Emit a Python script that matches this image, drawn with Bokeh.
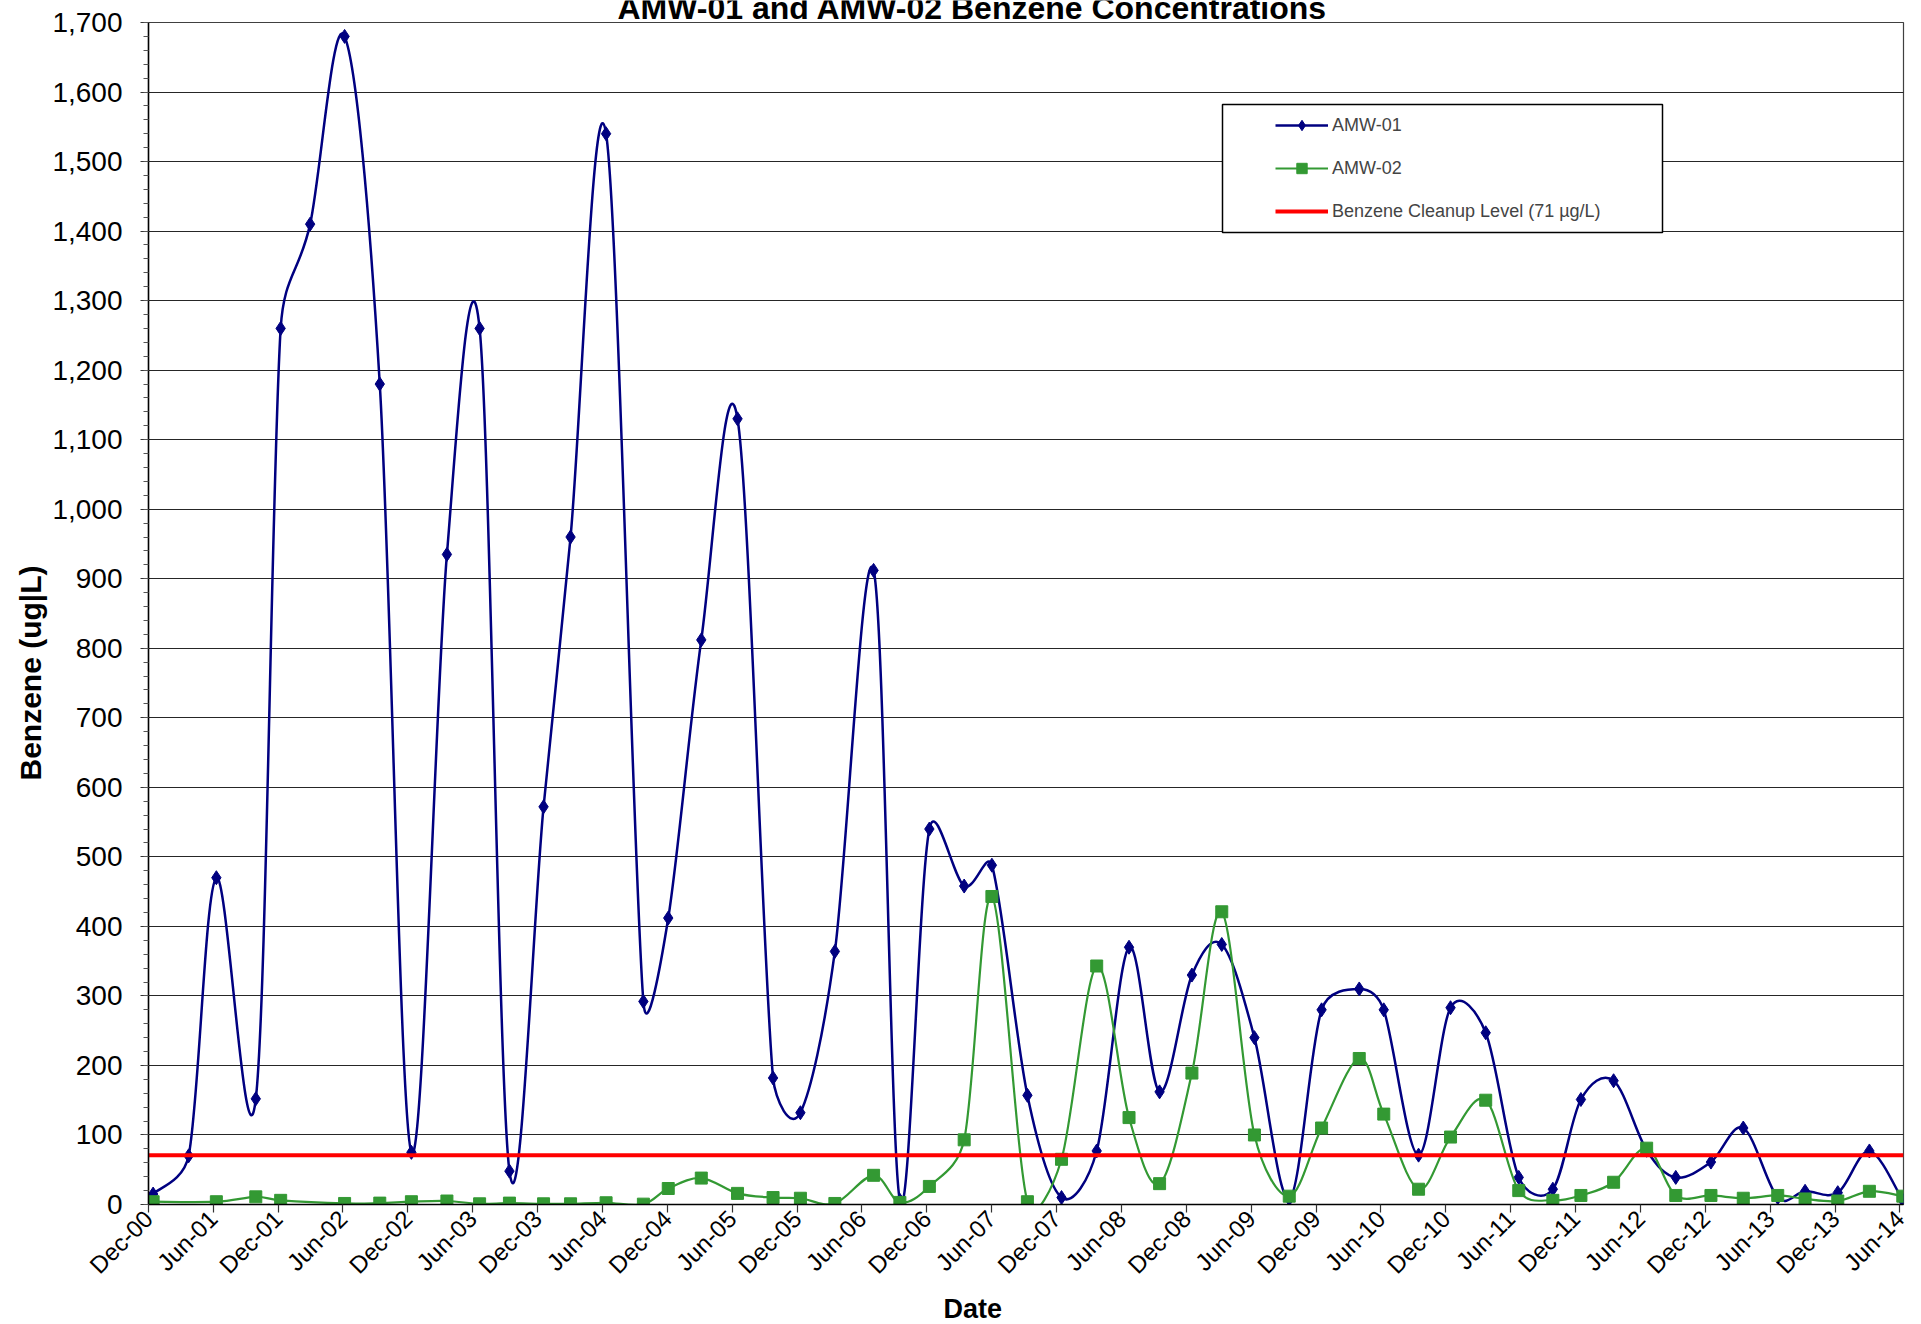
import math
from datetime import datetime

from bokeh.plotting import figure
from bokeh.layouts import column
from bokeh.models import (ColumnDataSource, FixedTicker, DatetimeTickFormatter,
                          NumeralTickFormatter, SingleIntervalTicker, Legend,
                          LegendItem, Label, BoxAnnotation, Range1d, Title)
from bokeh.embed import file_html
from bokeh.resources import INLINE

# ---------------- data ----------------
amw01_dates = [
    "2000-12-14", "2001-03-24", "2001-06-10", "2001-09-29", "2001-12-08",
    "2002-03-01", "2002-06-06", "2002-09-13", "2002-12-11", "2003-03-21",
    "2003-06-21", "2003-09-13", "2003-12-18", "2004-03-03", "2004-06-11",
    "2004-09-24", "2004-12-03", "2005-03-06", "2005-06-16", "2005-09-24",
    "2005-12-10", "2006-03-17", "2006-07-04", "2006-09-16", "2006-12-08",
    "2007-03-16", "2007-06-02", "2007-09-10", "2007-12-15", "2008-03-23",
    "2008-06-22", "2008-09-16", "2008-12-16", "2009-03-10", "2009-06-10",
    "2009-09-16", "2009-12-16", "2010-04-01", "2010-06-09", "2010-09-15",
    "2010-12-14", "2011-03-23", "2011-06-24", "2011-09-28", "2011-12-16",
    "2012-03-17", "2012-06-18", "2012-09-08", "2012-12-16", "2013-03-17",
    "2013-06-22", "2013-09-07", "2013-12-08", "2014-03-07", "2014-06-09",
]
amw01_values = [
    15, 70, 470, 152, 1260,
    1410, 1680, 1180, 75, 935,
    1260, 48, 572, 960, 1540,
    292, 412, 812, 1130, 182,
    132, 364, 912, 6, 540,
    458, 488, 157, 10, 77,
    370, 162, 330, 374, 240,
    8, 280, 310, 280, 71,
    283, 247, 39, 22, 151,
    178, 78, 39, 61, 110,
    10, 19, 17, 77, 6,
]

amw02_dates = [
    "2000-12-14", "2001-06-10", "2001-09-29", "2001-12-08", "2002-06-06",
    "2002-09-13", "2002-12-11", "2003-03-21", "2003-06-21", "2003-09-13",
    "2003-12-18", "2004-03-03", "2004-06-11", "2004-09-24", "2004-12-03",
    "2005-03-06", "2005-06-16", "2005-09-24", "2005-12-10", "2006-03-17",
    "2006-07-04", "2006-09-16", "2006-12-08", "2007-03-16", "2007-06-02",
    "2007-09-10", "2007-12-15", "2008-03-23", "2008-06-22", "2008-09-16",
    "2008-12-16", "2009-03-10", "2009-06-10", "2009-09-16", "2009-12-16",
    "2010-04-01", "2010-06-09", "2010-09-15", "2010-12-14", "2011-03-23",
    "2011-06-24", "2011-09-28", "2011-12-16", "2012-03-17", "2012-06-18",
    "2012-09-08", "2012-12-16", "2013-03-17", "2013-06-22", "2013-09-07",
    "2013-12-08", "2014-03-07", "2014-06-09",
]
amw02_values = [
    4, 4, 11, 6, 1.5,
    2, 4, 5, 1, 2,
    1, 1, 2.5, 0.5, 23,
    38, 16, 10, 9, 1.5,
    42, 3, 26, 93, 443,
    4, 65, 343, 125, 30,
    189, 421, 100, 12, 110,
    210, 130, 22, 97, 150,
    20, 6, 13, 32, 81,
    13, 13, 9, 13, 8,
    5, 19, 12,
]

cleanup_level = 71
cleanup_label = "Benzene Cleanup Level (71 \u00b5g/L)"

tick_dates = [
    "2000-12-01", "2001-06-01", "2001-12-01", "2002-06-01", "2002-12-01",
    "2003-06-01", "2003-12-01", "2004-06-01", "2004-12-01", "2005-06-01",
    "2005-12-01", "2006-06-01", "2006-12-01", "2007-06-01", "2007-12-01",
    "2008-06-01", "2008-12-01", "2009-06-01", "2009-12-01", "2010-06-01",
    "2010-12-01", "2011-06-01", "2011-12-01", "2012-06-01", "2012-12-01",
    "2013-06-01", "2013-12-01", "2014-06-01",
]
x_start_date = "2000-12-01"
x_end_date = "2014-06-11"
y_min, y_max = 0, 1700

title_text = "AMW-01 and AMW-02 Benzene Concentrations"
x_title = "Date"
y_title = "Benzene (ug|L)"

NAVY = "#000080"
GREEN = "#339933"
RED = "#FF0000"
FONT = "Liberation Sans"

PAGE_W = 1915
TOP_H = 22
FRAME_W, FRAME_H = 1755, 1182


def to_ms(s):
    d = datetime.strptime(s, "%Y-%m-%d")
    return (d - datetime(1970, 1, 1)).total_seconds() * 1000.0


x1 = [to_ms(s) for s in amw01_dates]
x2 = [to_ms(s) for s in amw02_dates]
xs_ms, xe_ms = to_ms(x_start_date), to_ms(x_end_date)

PX_X = FRAME_W / (xe_ms - xs_ms)     # pixels per ms
PX_Y = FRAME_H / (y_max - y_min)      # pixels per unit


def smooth_source(xs, ys):
    """Excel-like smoothed line: cubic Bezier segments with Catmull-Rom tangents,
    each control leg limited to half of its segment length (in screen space)."""
    P = [(x * PX_X, y * PX_Y) for x, y in zip(xs, ys)]
    n = len(P)
    d = dict(x0=[], y0=[], x1=[], y1=[], cx0=[], cy0=[], cx1=[], cy1=[])

    def leg(a, b, seg):
        vx, vy = (b[0] - a[0]) / 6.0, (b[1] - a[1]) / 6.0
        ln = math.hypot(vx, vy)
        lim = seg / 2.0
        if ln > lim and ln > 0:
            vx, vy = vx * lim / ln, vy * lim / ln
        return vx, vy

    for i in range(n - 1):
        p0 = P[i - 1] if i > 0 else P[i]
        p1 = P[i]
        p2 = P[i + 1]
        p3 = P[i + 2] if i + 2 < n else P[i + 1]
        seg = math.hypot(p2[0] - p1[0], p2[1] - p1[1])
        v1 = leg(p0, p2, seg)
        v2 = leg(p1, p3, seg)
        d["x0"].append(xs[i]); d["y0"].append(ys[i])
        d["x1"].append(xs[i + 1]); d["y1"].append(ys[i + 1])
        d["cx0"].append((p1[0] + v1[0]) / PX_X); d["cy0"].append((p1[1] + v1[1]) / PX_Y)
        d["cx1"].append((p2[0] - v2[0]) / PX_X); d["cy1"].append((p2[1] - v2[1]) / PX_Y)
    return ColumnDataSource(d)


# ---------------- title strip (text cut at the top like the reference) ----------------
t = figure(width=PAGE_W, height=TOP_H, x_range=Range1d(0, PAGE_W), y_range=Range1d(0, TOP_H),
           x_axis_location=None, y_axis_location=None,
           output_backend="svg", toolbar_location=None,
           min_border_left=0, min_border_right=0, min_border_top=0, min_border_bottom=0)
t.xgrid.visible = False
t.ygrid.visible = False
t.outline_line_color = None
t.background_fill_color = "white"
t.border_fill_color = "white"
# bottom of the text box (baseline + descent) placed so the baseline sits ~3.5px above the frame
t.add_layout(Label(x=899, y=-3.2, x_units="data", y_units="data",
                   text=title_text, text_font=FONT, text_font_size="32px",
                   text_font_style="bold", text_align="center",
                   text_baseline="bottom", text_color="black"))

# ---------------- main figure (pulled up over the title strip) ----------------
p = figure(frame_width=FRAME_W, frame_height=FRAME_H, x_axis_type="datetime",
           output_backend="svg", toolbar_location=None,
           x_range=Range1d(xs_ms, xe_ms), y_range=Range1d(y_min, y_max),
           min_border_left=148, min_border_right=12,
           min_border_top=TOP_H, min_border_bottom=100)
p.margin = (-TOP_H, 0, 0, 0)
p.background_fill_color = "white"
p.border_fill_color = "white"
p.border_fill_alpha = 0.0
p.outline_line_color = "#404040"
p.outline_line_width = 1.2

# x axis
p.xaxis.ticker = FixedTicker(ticks=[to_ms(s) for s in tick_dates])
p.xaxis.formatter = DatetimeTickFormatter(days="%b-%y", months="%b-%y", years="%b-%y",
                                          hours="%b-%y", hourmin="%b-%y")
p.xaxis.major_label_orientation = math.pi / 4
p.xaxis.major_label_text_font = FONT
p.xaxis.major_label_text_font_size = "24px"
p.xaxis.major_label_text_color = "black"
p.xaxis.major_label_standoff = 2
p.xaxis.major_tick_out = 8
p.xaxis.major_tick_in = 0
p.xaxis.minor_tick_out = 0
p.xaxis.minor_tick_in = 0
p.xaxis.axis_line_color = "black"
p.xaxis.axis_line_width = 1.5
p.xaxis.major_tick_line_color = "#333333"
p.xaxis.major_tick_line_width = 1.2

# y axis
p.yaxis.ticker = SingleIntervalTicker(interval=100, num_minor_ticks=5)
p.yaxis.formatter = NumeralTickFormatter(format="0,0")
p.yaxis.major_label_text_font = FONT
p.yaxis.major_label_text_font_size = "28px"
p.yaxis.major_label_text_color = "black"
p.yaxis.major_label_standoff = 18
p.yaxis.major_tick_out = 8
p.yaxis.major_tick_in = 0
p.yaxis.minor_tick_out = 5
p.yaxis.minor_tick_in = 0
p.yaxis.axis_line_color = "black"
p.yaxis.axis_line_width = 1.5
p.yaxis.major_tick_line_color = "#333333"
p.yaxis.minor_tick_line_color = "#555555"

p.xgrid.visible = False
p.ygrid.grid_line_color = "black"
p.ygrid.grid_line_alpha = 0.85
p.ygrid.grid_line_width = 1.1

# ---------------- series ----------------
b1 = p.bezier(x0="x0", y0="y0", x1="x1", y1="y1", cx0="cx0", cy0="cy0",
              cx1="cx1", cy1="cy1", source=smooth_source(x1, amw01_values),
              line_color=NAVY, line_width=2.5)
s1 = p.scatter(x=x1, y=amw01_values, marker="diamond", size=14,
               fill_color=NAVY, line_color=NAVY)

b2 = p.bezier(x0="x0", y0="y0", x1="x1", y1="y1", cx0="cx0", cy0="cy0",
              cx1="cx1", cy1="cy1", source=smooth_source(x2, amw02_values),
              line_color=GREEN, line_width=2.2)
s2 = p.scatter(x=x2, y=amw02_values, marker="square", size=12,
               fill_color=GREEN, line_color=GREEN)

rl = p.line(x=[xs_ms, xe_ms], y=[cleanup_level, cleanup_level],
            line_color=RED, line_width=4)

# ---------------- legend ----------------
box = BoxAnnotation(left=1074, right=1514, bottom=972, top=1100,
                    left_units="screen", right_units="screen",
                    top_units="screen", bottom_units="screen",
                    fill_color="white", fill_alpha=1.0,
                    line_color="black", line_width=1.5, line_alpha=1.0)
p.add_layout(box)

legend = Legend(items=[
    LegendItem(label="AMW-01", renderers=[b1, s1]),
    LegendItem(label="AMW-02", renderers=[b2, s2]),
    LegendItem(label=cleanup_label, renderers=[rl]),
], location=(1127, 980), padding=0, spacing=17, margin=0,
    glyph_width=53, glyph_height=26, label_height=26, label_standoff=4,
    label_text_font=FONT, label_text_font_size="18px",
    border_line_color=None, background_fill_alpha=0.0)
p.add_layout(legend)

# ---------------- axis titles ----------------
p.add_layout(Title(text=x_title, align="left", offset=795, standoff=0,
                   text_font=FONT, text_font_size="27px", text_font_style="bold",
                   text_color="black"), "below")
p.add_layout(Title(text=y_title, align="left", offset=424, standoff=6,
                   text_font=FONT, text_font_size="30px", text_font_style="bold",
                   text_color="black"), "left")

layout = column(t, p, spacing=0)
open("out.html", "w").write(file_html(layout, INLINE))
